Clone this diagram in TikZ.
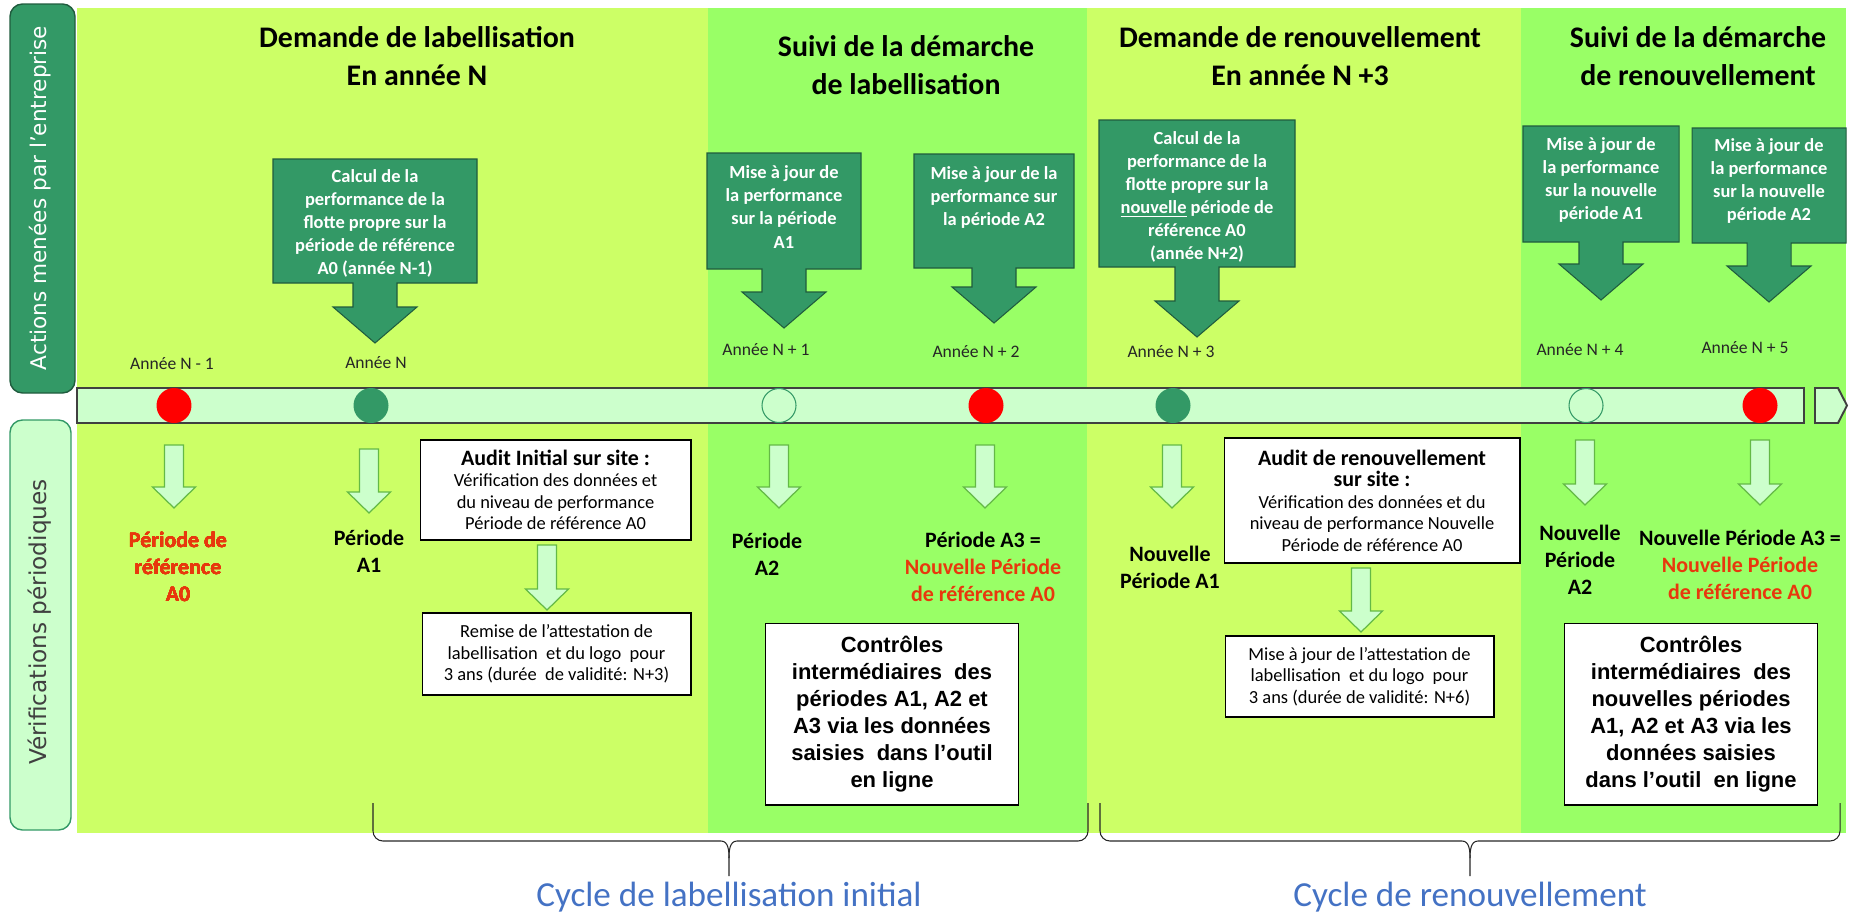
\documentclass[tikz,border=0pt]{standalone}
\usepackage{fontspec}
\setmainfont{Carlito}
\newfontfamily\arialfont{Liberation Sans}
\newfontfamily\verdanafont{DejaVu Sans}
\usepackage{tikz}

\definecolor{limeground}{RGB}{204,255,102}
\definecolor{greenground}{RGB}{153,255,102}
\definecolor{seagreen}{RGB}{51,153,102}
\definecolor{darkedge}{RGB}{32,92,62}
\definecolor{palegreen}{RGB}{204,255,204}
\definecolor{arrowedge}{RGB}{100,185,70}
\definecolor{alertred}{RGB}{232,56,13}
\definecolor{cycleblue}{RGB}{68,114,196}

% box with a block arrow below it: x, top, bottom, half width, tip
\newcommand{\downcallout}[5]{%
  \filldraw[down callout] (#1-#4,#2) -- (#1+#4,#2) -- (#1+#4,#3) -- (#1+22,#3)
    -- (#1+22,#5-36) -- (#1+42,#5-36) -- (#1,#5) -- (#1-42,#5-36)
    -- (#1-22,#5-36) -- (#1-22,#3) -- (#1-#4,#3) -- cycle;}
% light block arrow: x, top, tip
\newcommand{\hollowarrow}[3]{%
  \filldraw[hollow arrow] (#1-9.5,#2) -- (#1+9.5,#2) -- (#1+9.5,#3-21)
    -- (#1+21.5,#3-21) -- (#1,#3) -- (#1-21.5,#3-21) -- (#1-9.5,#3-21) -- cycle;}
% curly brace under a cycle: left, middle, right
\newcommand{\cyclebrace}[3]{%
  \draw[brace line] (#1,803) -- (#1,831) to[out=-90,in=180] (#1+10,841) -- (#2-8,841)
    to[out=0,in=90] (#2,858) -- (#2,876);
  \draw[brace line] (#2,858) to[out=90,in=180] (#2+8,841) -- (#3-10,841)
    to[out=0,in=-90] (#3,831) -- (#3,803);}

\begin{document}
\begin{tikzpicture}
  [x=0.02cm,y=-0.02cm,
  %Styles
  side box/.style={rounded corners=0.25cm,line width=0.8pt},
  side text/.style={rotate=90,font=\verdanafont\fontsize{#1}{14}\selectfont},
  phase title/.style={font=\fontsize{17}{21.6}\selectfont\bfseries,align=center},
  down callout/.style={fill=seagreen,draw=darkedge,line width=0.6pt},
  callout text/.style={font=\fontsize{10.5}{13.1}\selectfont\bfseries,text=white,align=center,inner sep=0pt},
  year/.style={font=\fontsize{10}{12}\selectfont,text=black!85},
  timeline/.style={fill=palegreen,draw=black!75,line width=1.1pt},
  dot/.style={circle,minimum size=0.7cm,inner sep=0pt,fill=#1},
  open dot/.style={circle,minimum size=0.68cm,inner sep=0pt,fill=palegreen,draw=seagreen,line width=0.6pt},
  hollow arrow/.style={fill=palegreen,draw=arrowedge,line width=0.7pt},
  period/.style={font=\fontsize{12.5}{15.3}\selectfont\bfseries,align=center},
  white box/.style={draw=black,fill=white,line width=0.6pt,align=center,inner sep=0pt},
  audit box/.style={white box,font=\fontsize{10.5}{12.2}\selectfont,minimum width=#1},
  check box/.style={white box,font=\arialfont\fontsize{12.5}{15.3}\selectfont\bfseries,minimum width=5.06cm,minimum height=3.64cm},
  brace line/.style={draw=black!85,line width=0.6pt},
  cycle label/.style={font=\fontsize{20}{24}\selectfont,text=cycleblue}
  ]

  \useasboundingbox (0,0) rectangle (1858,914);

  %Background bands
  \fill[limeground] (77,8) rectangle (1846,833);
  \fill[greenground] (708,8) rectangle (1087,833);
  \fill[greenground] (1521,8) rectangle (1846,833);

  %Side labels
  \draw[side box,fill=seagreen,draw=darkedge] (10,4) rectangle (75,393);
  \node[side text=12.3,text=white] (actions) at (40,198) {Actions menées par l’entreprise};
  \draw[side box,fill=palegreen,draw=seagreen] (10,420) rectangle (71,830);
  \node[side text=13.2,text=black!75] (checks) at (40,622) {Vérifications périodiques};

  %Phase titles
  \node[phase title] (demande1) at (417,56) {Demande de labellisation\\En année N};
  \node[phase title] (suivi1) at (906,65) {Suivi de la démarche\\de labellisation};
  \node[phase title] (demande2) at (1300,56) {Demande de renouvellement\\En année N +3};
  \node[phase title] (suivi2) at (1698,56) {Suivi de la démarche\\de renouvellement};

  %Actions of the company
  \downcallout{375}{159}{283}{102}{343}
  \node[callout text] (calcul1) at (375,223) {Calcul de la\\performance de la\\flotte propre sur la\\période de référence\\A0 (année N-1)};
  \downcallout{784}{153}{269}{77}{328}
  \node[callout text] (maj1) at (784,207) {Mise à jour de\\la performance\\sur la période\\A1};
  \downcallout{994}{154}{268}{80}{323}
  \node[callout text] (maj2) at (994,197) {Mise à jour de la\\performance sur\\la période A2};
  \downcallout{1197}{120}{267}{98}{337}
  \node[callout text] (calcul2) at (1197,197) {Calcul de la\\performance de la\\flotte propre sur la\\\underline{nouvelle} période de\\référence A0\\(année N+2)};
  \downcallout{1601}{126}{242}{78}{300}
  \node[callout text] (majnouv1) at (1601,180) {Mise à jour de\\la performance\\sur la nouvelle\\période A1};
  \downcallout{1769}{128}{243}{77}{302}
  \node[callout text] (majnouv2) at (1769,181) {Mise à jour de\\la performance\\sur la nouvelle\\période A2};

  %Years
  \node[year] (anm1) at (172,364) {Année N - 1};
  \node[year] (an0) at (376,363) {Année N};
  \node[year] (anp1) at (766,350) {Année N + 1};
  \node[year] (anp2) at (976,352) {Année N + 2};
  \node[year] (anp3) at (1171,352) {Année N + 3};
  \node[year] (anp4) at (1580,350) {Année N + 4};
  \node[year] (anp5) at (1745,348) {Année N + 5};

  %Timeline
  \draw[timeline] (77,388) rectangle (1804,423);
  \draw[timeline] (1815,388) -- (1838,388) -- (1847,405.5) -- (1838,423) -- (1815,423) -- cycle;
  \foreach \x/\c/\n in {174/red/d1,371/seagreen/d2,986/red/d4,1173/seagreen/d5,1760/red/d7}
    \node[dot=\c] (\n) at (\x,405.5) {};
  \node[open dot] (d3) at (779,405.5) {};
  \node[open dot] (d6) at (1586,405.5) {};

  %Periodic checks
  \foreach \x/\t/\b in {174/445/508,369/449/513,779/445/508,985/445/508,1172/445/508,1585/440/505,1760/440/505,547/545/610,1361/568/632}
    \hollowarrow{\x}{\t}{\b}
  \node[period,text=alertred] (ref0) at (178,567) {Période de\\référence\\A0};
  \node[period] (per1) at (369,551) {Période\\A1};
  \node[period] (per2) at (767,554) {Période\\A2};
  \node[period] (per3) at (983,567) {Période A3 =\\\textcolor{alertred}{Nouvelle Période}\\\textcolor{alertred}{de référence A0}};
  \node[period] (nper1) at (1170,567) {Nouvelle\\Période A1};
  \node[period] (nper2) at (1580,560) {Nouvelle\\Période\\A2};
  \node[period] (nper3) at (1740,565) {Nouvelle Période A3 =\\\textcolor{alertred}{Nouvelle Période}\\\textcolor{alertred}{de référence A0}};

  \node[audit box=5.42cm,minimum height=2cm] (audit1) at (555.5,490) {{\fontsize{12.5}{12}\selectfont\bfseries Audit Initial sur site :}\\Vérification des données et\\du niveau de performance\\Période de référence A0};
  \node[audit box=5.38cm,minimum height=1.64cm] (remise) at (556.5,654) {Remise de l’attestation de\\labellisation\ \ et du logo\ \ pour\\3 ans (durée\ \ de validité: N+3)};
  \node[check box] (controle1) at (892,714) {Contrôles\\intermédiaires\ \ des\\périodes A1, A2 et\\A3 via les données\\saisies\ \ dans l’outil\\en ligne};
  \node[audit box=5.92cm,minimum height=2.5cm] (audit2) at (1372,500.5) {{\fontsize{12.5}{12}\selectfont\bfseries Audit de renouvellement}\\{\fontsize{12.5}{12}\selectfont\bfseries sur site :}\\Vérification des données et du\\niveau de performance Nouvelle\\Période de référence A0};
  \node[audit box=5.38cm,minimum height=1.62cm] (majattest) at (1359.5,676.5) {Mise à jour de l’attestation de\\labellisation\ \ et du logo\ \ pour\\3 ans (durée de validité: N+6)};
  \node[check box] (controle2) at (1691,714) {Contrôles\\intermédiaires\ \ des\\nouvelles périodes\\A1, A2 et A3 via les\\données saisies\\dans l’outil\ \ en ligne};

  %Cycles
  \cyclebrace{373}{729}{1088}
  \node[cycle label] (cycle1) at (729,897) {Cycle de labellisation initial};
  \cyclebrace{1100}{1470}{1840}
  \node[cycle label] (cycle2) at (1470,897) {Cycle de renouvellement};
\end{tikzpicture}
\end{document}
